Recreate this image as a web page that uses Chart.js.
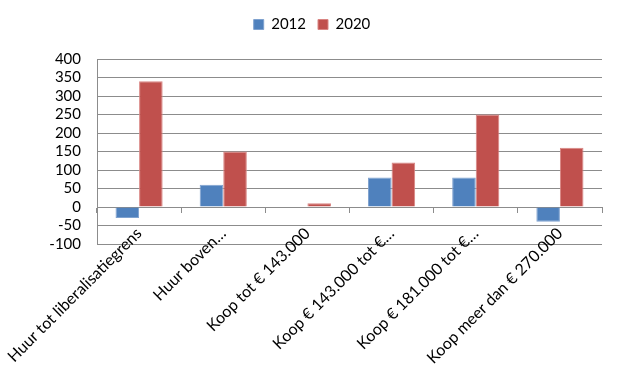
<!DOCTYPE html>
<html>
<head>
<meta charset="utf-8">
<script src="https://cdn.jsdelivr.net/npm/chart.js@4/dist/chart.umd.min.js"></script>
<style>
html,body{margin:0;padding:0;background:#fff;}
#wrap{width:619px;height:370px;position:relative;}
</style>
</head>
<body>
<div id="wrap"><canvas id="c" width="619" height="370"></canvas></div>
<script>
const categories = [
  "Huur tot liberalisatiegrens",
  "Huur boven…",
  "Koop tot € 143.000",
  "Koop € 143.000 tot €…",
  "Koop € 181.000 tot €…",
  "Koop meer dan € 270.000"
];
const seriesNames = ["2012", "2020"];
const values2012 = [-30, 60, 0, 80, 80, -40];
const values2020 = [340, 150, 10, 120, 250, 160];
const yMin = -100, yMax = 400, yStep = 50;

const FONT = "Lato, 'Open Sans', sans-serif";
const GRID = "#8c8c8c";

const legendGap = {
  id: 'legendGap',
  beforeLayout(chart) {
    const lg = chart.legend;
    if (lg && !lg._gapPatched) {
      const f = lg.fit;
      lg.fit = function () { f.call(this); this.height += 17; };
      const d = lg.draw;
      lg.draw = function () {
        const ctx = this.ctx;
        ctx.save();
        ctx.translate(11, 0);
        d.call(this);
        ctx.restore();
      };
      lg._gapPatched = true;
    }
  }
};

new Chart(document.getElementById('c'), {
  type: 'bar',
  data: {
    labels: categories,
    datasets: [
      { label: seriesNames[0], data: values2012, backgroundColor: '#4F81BD', borderColor: '#7FA2CF', borderWidth: 1 },
      { label: seriesNames[1], data: values2020, backgroundColor: '#C0504D', borderColor: '#D98583', borderWidth: 1 }
    ]
  },
  plugins: [legendGap],
  options: {
    responsive: false,
    animation: false,
    layout: { padding: { left: 0, right: 17, top: 5, bottom: 126 } },
    datasets: { bar: { categoryPercentage: 0.56, barPercentage: 1 } },
    plugins: {
      legend: {
        position: 'top',
        labels: { boxWidth: 10, boxHeight: 10, padding: 12, color: '#000', font: { family: FONT, size: 15 } }
      },
      tooltip: { enabled: false }
    },
    scales: {
      y: {
        min: yMin, max: yMax,
        ticks: { stepSize: yStep, autoSkip: false, color: '#000', padding: 16, font: { family: FONT, size: 15 } },
        grid: { color: GRID, drawTicks: false },
        border: { display: true, color: GRID },
        afterFit: (s) => { s.width = 97; }
      },
      x: {
        position: { y: 0 },
        ticks: { color: '#000', minRotation: 45, maxRotation: 45, autoSkip: false, padding: 12, font: { family: FONT, size: 16 } },
        grid: { color: GRID, drawOnChartArea: false, drawTicks: true, tickLength: 5, offset: true },
        border: { display: true, color: GRID },
        afterFit: (s) => { s.paddingLeft = 0; s.paddingRight = 0; }
      }
    }
  }
});
</script>
</body>
</html>
